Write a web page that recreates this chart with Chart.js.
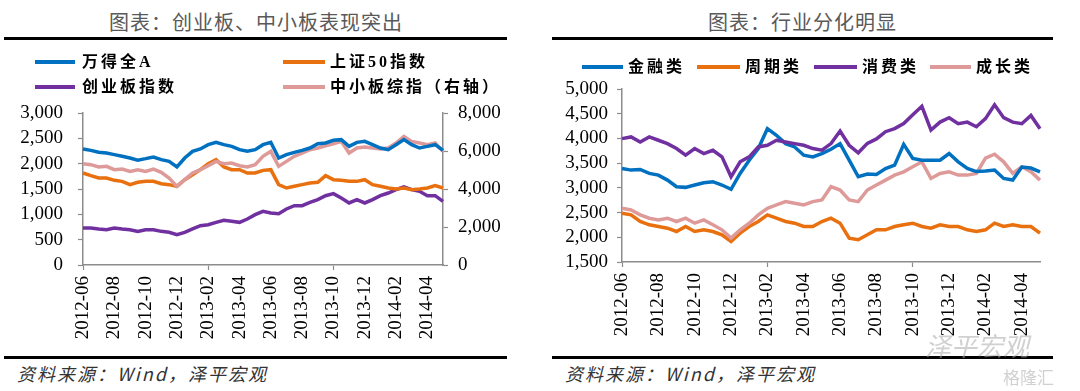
<!DOCTYPE html>
<html>
<head>
<meta charset="utf-8">
<script src="https://cdn.jsdelivr.net/npm/chart.js@4.4.0/dist/chart.umd.min.js"></script>
<style>
body{margin:0;width:1080px;height:391px;background:#fff;position:relative;overflow:hidden;font-family:"Noto Sans CJK SC",sans-serif}
.abs{position:absolute}
.title{top:8px;height:28px;line-height:28px;text-align:center;color:#595959;font-size:20px;letter-spacing:1px;white-space:nowrap}
.rule{height:3px;background:#000}
.sw{height:4px}
.leg{height:22px;line-height:22px;font-family:"Liberation Serif","Noto Sans CJK SC",serif;font-size:16px;font-weight:bold;letter-spacing:3px;color:#000;white-space:nowrap}
.src{top:361px;height:24px;line-height:24px;font-size:18px;font-style:italic;letter-spacing:2px;color:#333;white-space:nowrap}
.wm{color:rgba(170,170,170,0.55);font-style:italic;white-space:nowrap}
</style>
</head>
<body>
<div class="abs" style="left:0;top:95px;width:540px;height:260px"><canvas id="left" width="540" height="260"></canvas></div>
<div class="abs" style="left:540px;top:70px;width:540px;height:285px"><canvas id="right" width="540" height="285"></canvas></div>

<div class="abs title" style="left:5px;width:502px">图表：创业板、中小板表现突出</div>
<div class="abs rule" style="left:4px;top:37px;width:503px"></div>
<div class="abs title" style="left:552px;width:501px">图表：行业分化明显</div>
<div class="abs rule" style="left:552px;top:37px;width:501px"></div>

<div class="abs sw" style="left:35px;top:60px;width:40px;background:#0070C0"></div>
<div class="abs leg" style="left:82px;top:51px">万得全A</div>
<div class="abs sw" style="left:283px;top:60px;width:42px;background:#E8700E"></div>
<div class="abs leg" style="left:330px;top:51px">上证50指数</div>
<div class="abs sw" style="left:35px;top:85px;width:40px;background:#7030A0"></div>
<div class="abs leg" style="left:82px;top:76px">创业板指数</div>
<div class="abs sw" style="left:283px;top:85px;width:42px;background:#DE9A99"></div>
<div class="abs leg" style="left:330px;top:76px">中小板综指（右轴）</div>

<div class="abs sw" style="left:582px;top:65px;width:41px;background:#0070C0"></div>
<div class="abs leg" style="left:628px;top:56px">金融类</div>
<div class="abs sw" style="left:697px;top:65px;width:43px;background:#E8700E"></div>
<div class="abs leg" style="left:745px;top:56px">周期类</div>
<div class="abs sw" style="left:814px;top:65px;width:43px;background:#7030A0"></div>
<div class="abs leg" style="left:862px;top:56px">消费类</div>
<div class="abs sw" style="left:930px;top:65px;width:41px;background:#DE9A99"></div>
<div class="abs leg" style="left:976px;top:56px">成长类</div>

<div class="abs rule" style="left:4px;top:356px;width:503px"></div>
<div class="abs rule" style="left:552px;top:356px;width:501px"></div>
<div class="abs src" style="left:17px">资料来源：Wind，泽平宏观</div>
<div class="abs src" style="left:565px">资料来源：Wind，泽平宏观</div>
<div class="abs wm" style="left:925px;top:326px;font-size:26px">泽平宏观</div>
<div class="abs wm" style="left:1003px;top:364px;font-size:17px;font-style:normal">格隆汇</div>

<script>
// half-month dates, 2012-06 .. 2014-05
dates = ['2012-06-01','2012-06-16','2012-07-01','2012-07-16','2012-08-01','2012-08-16','2012-09-01','2012-09-16',
  '2012-10-01','2012-10-16','2012-11-01','2012-11-16','2012-12-01','2012-12-16','2013-01-01','2013-01-16',
  '2013-02-01','2013-02-16','2013-03-01','2013-03-16','2013-04-01','2013-04-16','2013-05-01','2013-05-16',
  '2013-06-01','2013-06-16','2013-07-01','2013-07-16','2013-08-01','2013-08-16','2013-09-01','2013-09-16',
  '2013-10-01','2013-10-16','2013-11-01','2013-11-16','2013-12-01','2013-12-16','2014-01-01','2014-01-16',
  '2014-02-01','2014-02-16','2014-03-01','2014-03-16','2014-04-01','2014-04-16','2014-05-01']

// 图表：创业板、中小板表现突出
windA = [2290,2263,2224,2211,2178,2145,2112,2070,2099,2132,2079,2046,1934,2112,2244,2290,2375,2421,2375,2342,
  2277,2244,2277,2375,2421,2112,2178,2224,2263,2309,2395,2408,2461,2474,2342,2421,2441,2375,2309,2277,
  2375,2474,2375,2309,2342,2375,2263]
sz50 = [1816,1763,1717,1717,1671,1651,1586,1632,1651,1651,1605,1586,1553,1684,1783,1882,2000,2079,1934,1882,
  1882,1816,1816,1868,1882,1586,1520,1553,1586,1618,1632,1763,1684,1671,1651,1651,1684,1586,1553,1520,
  1500,1520,1487,1500,1520,1566,1520]
cyb = [730,730,711,697,730,711,697,664,697,697,664,645,599,645,711,776,796,842,882,862,
  842,908,993,1059,1026,1013,1105,1171,1171,1237,1290,1368,1408,1322,1224,1290,1224,1290,1368,1421,
  1487,1540,1487,1454,1368,1368,1257]
zxbz = [5332,5280,5157,5192,5016,5051,4929,5016,4929,5051,4876,4578,4139,4490,4841,5016,5227,5455,5332,5367,
  5227,5157,5280,5718,5981,5192,5455,5718,5893,6069,6157,6279,6384,6507,5893,6157,6209,6157,6104,6157,
  6419,6770,6507,6419,6332,6419,5981]

// 图表：行业分化明显
jinrong = [3392,3359,3372,3292,3258,3157,3023,3010,3057,3104,3124,3057,2970,3292,3560,3795,4197,4063,3895,3828,
  3661,3627,3694,3780,3895,3560,3224,3280,3270,3390,3460,3880,3597,3560,3560,3560,3694,3527,3394,3330,
  3340,3360,3190,3158,3420,3400,3325]
zhouqi = [2486,2453,2319,2252,2218,2184,2117,2218,2117,2151,2117,2050,1916,2084,2218,2319,2453,2386,2319,2285,
  2218,2218,2319,2386,2285,1983,1950,2050,2151,2151,2218,2252,2285,2218,2184,2252,2218,2218,2151,2117,
  2151,2285,2218,2252,2218,2218,2084]
xiaofei = [3996,4030,3929,4030,3963,3895,3795,3661,3795,3694,3761,3627,3224,3527,3627,3828,3862,3963,3929,3895,
  3862,3795,3761,3895,4150,3862,3710,3900,3990,4136,4200,4300,4480,4650,4170,4331,4420,4298,4331,4237,
  4400,4680,4420,4330,4298,4466,4197]
chengzhang = [2587,2553,2453,2386,2352,2386,2319,2386,2285,2352,2252,2151,1983,2151,2285,2453,2587,2654,2721,2688,
  2654,2721,2755,3023,2956,2755,2721,2956,3057,3157,3258,3325,3426,3527,3191,3292,3325,3258,3258,3292,
  3600,3680,3527,3292,3426,3325,3157]

blue = '#0070C0'
orange = '#E8700E'
purple = '#7030A0'
pink = '#DE9A99'
axisGrey = '#8C8C8C'
tickFont = {family: "'Liberation Serif', 'Times New Roman', serif", size: 19}

line = function(data, color, axis){
    return {data: data, borderColor: color, backgroundColor: color, borderWidth: 3.5,
        pointRadius: 0, fill: false, tension: 0, yAxisID: axis}
}

// only the even months get a label and a tick mark
xLabel = function(value){
    var l = this.getLabelForValue(value)
    if (l.slice(8) == '01' && Number(l.slice(5, 7)) % 2 == 0) return l.slice(0, 7)
    return null
}

xAxis = function(height){
    return {
        type: 'category', offset: false,
        grid: {drawOnChartArea: false, tickLength: 5, tickWidth: 1.2,
            tickColor: function(c){ return c.index % 4 == 0 ? axisGrey : 'rgba(0,0,0,0)' }},
        border: {color: axisGrey, width: 1.5},
        ticks: {autoSkip: false, minRotation: 90, maxRotation: 90, padding: 6, color: '#000', font: tickFont, callback: xLabel},
        afterFit: function(s){ s.height = height }
    }
}

yAxis = function(pos, min, max, step, pad, width){
    return {
        position: pos, min: min, max: max,
        grid: {drawOnChartArea: false, tickLength: 5, tickWidth: 1.2, color: axisGrey},
        border: {color: axisGrey, width: 1.5},
        ticks: {stepSize: step, autoSkip: false, padding: pad, color: '#000', font: tickFont,
            callback: function(v){ return v.toLocaleString('en-US') }},
        // fixed width; the tick padding must not push the plot down
        afterFit: function(s){ s.width = width; s.paddingTop = 0; s.paddingBottom = 0 }
    }
}

common = {
    responsive: false, animation: false, devicePixelRatio: 1,
    plugins: {legend: {display: false}, tooltip: {enabled: false}}
}

new Chart(document.getElementById('left'), {
    type: 'line',
    data: {
        labels: dates,
        datasets: [
            line(windA, blue, 'y'),
            line(zxbz, pink, 'y2'),
            line(sz50, orange, 'y'),
            line(cyb, purple, 'y')
        ]
    },
    options: Object.assign({}, common, {
        layout: {padding: {top: 18}},
        scales: {
            x: xAxis(90),
            y: yAxis('left', 0, 3000, 500, 15, 83),
            y2: yAxis('right', 0, 8000, 2000, 10, 97)
        }
    })
})

new Chart(document.getElementById('right'), {
    type: 'line',
    data: {
        labels: dates,
        datasets: [
            line(xiaofei, purple, 'y'),
            line(jinrong, blue, 'y'),
            line(chengzhang, pink, 'y'),
            line(zhouqi, orange, 'y')
        ]
    },
    options: Object.assign({}, common, {
        layout: {padding: {top: 19, right: 40}},
        scales: {
            x: xAxis(93),
            y: yAxis('left', 1500, 5000, 500, 9, 82)
        }
    })
})
</script>
</body>
</html>
